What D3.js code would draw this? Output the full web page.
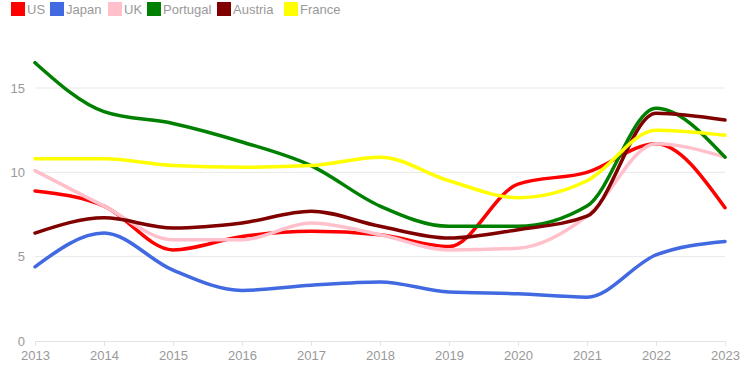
<!DOCTYPE html>
<html><head><meta charset="utf-8">
<script src="https://cdn.jsdelivr.net/npm/d3@7"></script>
<style>body{margin:0;background:#fff}svg{display:block;font-family:"Liberation Sans",Arial,sans-serif}</style>
</head><body><svg id="c" width="750" height="375"></svg>
<script>
const years = [2013,2014,2015,2016,2017,2018,2019,2020,2021,2022,2023];
const seriesNames = ["US","Japan","UK","Portugal","Austria","France"];
const seriesColors = ["#ff0000","#4169e1","#ffc0cb","#008000","#800000","#ffff00"];
const usValues = [8.9,8.0,5.4,6.2,6.5,6.3,5.6,9.3,10.0,11.7,7.9];
const japanValues = [4.4,6.4,4.2,3.0,3.3,3.5,2.9,2.8,2.6,5.1,5.9];
const ukValues = [10.1,8.0,6.0,6.0,7.0,6.3,5.4,5.5,7.4,11.7,10.9];
const portugalValues = [16.5,13.6,12.9,11.8,10.4,8.0,6.8,6.8,8.0,13.8,10.9];
const austriaValues = [6.4,7.3,6.7,7.0,7.7,6.8,6.1,6.6,7.4,13.5,13.1];
const franceValues = [10.8,10.8,10.4,10.3,10.4,10.9,9.5,8.5,9.5,12.5,12.2];
const yTicks = [0,5,10,15];

const allValues = [usValues,japanValues,ukValues,portugalValues,austriaValues,franceValues];
const svg = d3.select("#c");
const x = d3.scaleLinear().domain([2013,2023]).range([35,725]);
const y = d3.scaleLinear().domain([0,15]).range([341,88]);

// grid
svg.append("g").selectAll("line").data(yTicks.slice(1)).join("line")
  .attr("x1",35).attr("x2",725).attr("y1",d=>y(d)).attr("y2",d=>y(d))
  .attr("stroke","#e8e8e8").attr("stroke-width",1);

// y labels
svg.append("g").selectAll("text").data(yTicks).join("text")
  .attr("x",25).attr("y",d=>y(d)).attr("dy","0.35em").attr("text-anchor","end")
  .attr("fill","#999").attr("font-size",13).text(d=>d);

// x axis
const xAxis = d3.axisBottom(x).tickValues(years).tickFormat(d3.format("d")).tickSize(5).tickPadding(5);
const gx = svg.append("g").attr("transform",`translate(0,${y(0)})`).call(xAxis);
gx.select(".domain").attr("stroke","#e3e3e3");
gx.selectAll(".tick line").attr("stroke","#e3e3e3");
gx.selectAll("text").attr("fill","#999").attr("font-size",13).attr("font-family","Liberation Sans, Arial, sans-serif");

// lines
const line = d3.line().x((d,i)=>x(years[i])).y(d=>y(d)).curve(d3.curveMonotoneX);
svg.append("g").selectAll("path").data(allValues).join("path")
  .attr("d",d=>line(d)).attr("fill","none")
  .attr("stroke",(d,i)=>seriesColors[i]).attr("stroke-width",3.5)
  .attr("stroke-linejoin","round").attr("stroke-linecap","round");

// legend
const legendX = [11,50,108,147,217,284];
const lg = svg.append("g");
seriesNames.forEach((n,i)=>{
  lg.append("rect").attr("x",legendX[i]).attr("y",2).attr("width",14).attr("height",14).attr("fill",seriesColors[i]);
  lg.append("text").attr("x",legendX[i]+16).attr("y",9).attr("dy","0.35em")
    .attr("fill","#999").attr("font-size",13).text(n);
});
</script></body></html>
